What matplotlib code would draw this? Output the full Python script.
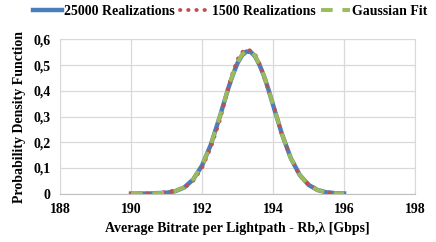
import numpy as np
import matplotlib.pyplot as plt

plt.rcParams['font.family'] = ['Liberation Serif', 'DejaVu Serif']
plt.rcParams['font.weight'] = 'bold'
plt.rcParams['axes.labelweight'] = 'bold'

# bitrate grid [Gbps]
bitrate = [190.0, 190.5, 191.0, 191.25, 191.5, 191.75, 192.0, 192.25, 192.5,
           192.625, 192.75, 192.875, 193.0, 193.125, 193.25, 193.375, 193.5,
           193.625, 193.75, 193.875, 194.0, 194.25, 194.5, 194.75,
           195.0, 195.25, 195.5, 195.75, 196.0]
pdf_25000 = [0.000, 0.0003, 0.0034, 0.0096, 0.024, 0.055, 0.109, 0.191, 0.299,
             0.357, 0.414, 0.465, 0.508, 0.538, 0.553, 0.551, 0.533,
             0.499, 0.456, 0.403, 0.345, 0.232, 0.138, 0.073,
             0.034, 0.014, 0.005, 0.0017, 0.0005]
pdf_1500 = [0.000, 0.001, 0.006, 0.012, 0.022, 0.050, 0.100, 0.180, 0.285,
            0.350, 0.420, 0.475, 0.522, 0.550, 0.562, 0.556, 0.540,
            0.505, 0.452, 0.400, 0.350, 0.228, 0.140, 0.070,
            0.036, 0.016, 0.006, 0.002, 0.000]
pdf_fit = [0.000, 0.0003, 0.0036, 0.010, 0.025, 0.056, 0.110, 0.192, 0.300,
           0.358, 0.416, 0.467, 0.510, 0.541, 0.556, 0.554, 0.535,
           0.500, 0.457, 0.404, 0.346, 0.232, 0.138, 0.073,
           0.034, 0.014, 0.005, 0.0017, 0.0005]

xticks = [188, 190, 192, 194, 196, 198]
yticks = [0, 0.1, 0.2, 0.3, 0.4, 0.5, 0.6]
ytick_labels = ['0', '0,1', '0,2', '0,3', '0,4', '0,5', '0,6']

fig = plt.figure(figsize=(4.36, 2.42), dpi=100)
ax = fig.add_axes([0.1376, 0.2, 0.8144, 0.637])

ax.plot(bitrate, pdf_25000, '-', color='#4a7ebb', lw=3.2, label='25000 Realizations')
ax.plot(bitrate, pdf_1500, color='#c0504d', lw=2.8, linestyle=(0, (0.1, 2.0)),
        dash_capstyle='round', label='1500 Realizations')
ax.plot(bitrate, pdf_fit, color='#9bbb59', lw=2.8, linestyle=(0, (3, 2.5)),
        label='Gaussian Fit')

ax.set_xlim(188, 198)
ax.set_ylim(0, 0.6)
ax.set_xticks(xticks)
ax.set_yticks(yticks)
ax.set_yticklabels(ytick_labels)
ax.tick_params(length=0, labelsize=10, pad=7)
ax.grid(True, color='#d9d9d9', lw=0.9)
ax.set_axisbelow(True)
for s in ax.spines.values():
    s.set_color('#d9d9d9')
ax.spines['bottom'].set_color('#bfbfbf')

ax.set_xlabel('Average Bitrate per Lightpath - Rb,λ [Gbps]', fontsize=10, labelpad=4)
ax.set_ylabel('Probability Density Function', fontsize=10, labelpad=5)

fig.legend(loc='center', bbox_to_anchor=(0.528, 0.952), ncol=3, frameon=False,
           fontsize=10, handlelength=2.1, handletextpad=0.15, columnspacing=0.4,
           borderaxespad=0)

fig.savefig('out.png', dpi=100)
